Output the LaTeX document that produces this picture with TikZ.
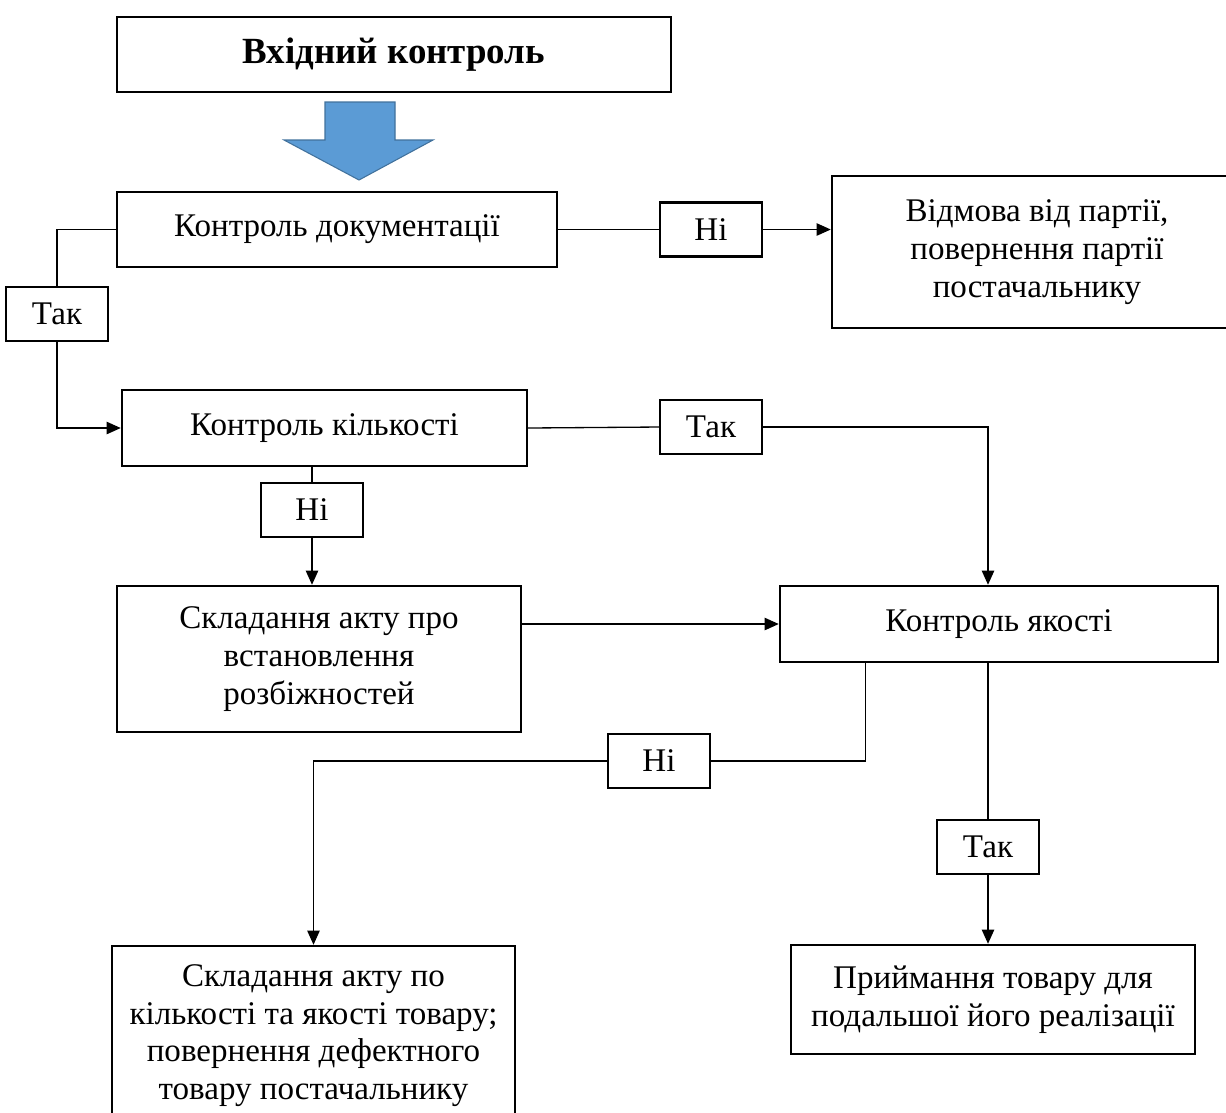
\documentclass[tikz,border=0pt]{standalone}
\usepackage{fontspec}
\setmainfont{Liberation Serif}
\usepackage{tikz}
\usetikzlibrary{positioning,arrows.meta,calc}

\definecolor{arrowblue}{HTML}{5B9BD5}
\definecolor{arrowedge}{HTML}{41719C}

\begin{document}
\begin{tikzpicture}[
  x=1cm, y=1cm,
  every node/.style={font=\fontsize{18.8}{21.5}\selectfont},
  % main process boxes
  box/.style={
    draw=black,
    line width=1.4pt,
    fill=white,
    align=center,
    inner sep=0pt
  },
  % small yes / no labels on the connectors
  tag/.style={
    draw=black,
    line width=1.3pt,
    fill=white,
    minimum width=2.04cm,
    minimum height=1.08cm,
    inner sep=0pt
  },
  link/.style={line width=0.75pt, draw=black},
  arr/.style={-{Triangle[length=8pt,width=7pt]}, line width=0.75pt, draw=black}
]

% Fixed page with the reference proportions
\useasboundingbox (0,0) rectangle (24.52,-22.24);

\node[box, minimum width=11.08cm, minimum height=1.5cm,
  font=\fontsize{21}{24}\selectfont\bfseries] (entry) at (7.88,-1.09) {Вхідний контроль};

% Big block arrow under the title
\filldraw[fill=arrowblue, draw=arrowedge, line width=0.6pt]
  (6.5,-2.04) -- (7.9,-2.04) -- (7.9,-2.8) -- (8.66,-2.8) -- (7.18,-3.6)
  -- (5.68,-2.8) -- (6.5,-2.8) -- cycle;

\node[box, minimum width=8.8cm, minimum height=1.5cm] (docs) at (6.74,-4.59) {Контроль документації};
\node[tag] (nodocs) at (14.22,-4.59) {Ні};
\node[box, minimum width=8.2cm, minimum height=3.04cm] (refuse) at (20.74,-5.04)
  {Відмова від партії,\\повернення партії\\постачальнику};

\node[tag] (yesdocs) at (1.14,-6.28) {Так};

\node[box, minimum width=8.1cm, minimum height=1.52cm] (amount) at (6.49,-8.56) {Контроль кількості};
\node[tag] (yesamount) at (14.22,-8.54) {Так};
\node[tag] (noamount) at (6.24,-10.2) {Ні};

\node[box, minimum width=8.08cm, minimum height=2.92cm] (report) at (6.38,-13.18)
  {Складання акту про\\встановлення\\розбіжностей};
\node[box, minimum width=8.76cm, minimum height=1.52cm] (quality) at (19.98,-12.48) {Контроль якості};

\node[tag] (noquality) at (13.18,-15.22) {Ні};
\node[tag] (yesquality) at (19.76,-16.94) {Так};

\node[box, minimum width=8.06cm, minimum height=3.58cm] (defect) at (6.27,-20.71)
  {Складання акту по\\кількості та якості товару;\\повернення дефектного\\товару постачальнику};
\node[box, minimum width=8.08cm, minimum height=2.18cm] (accept) at (19.86,-19.99)
  {Приймання товару для\\подальшої його реалізації};

% Document check
\draw[link] (docs.east) -- (nodocs.west);
\draw[arr] (nodocs.east) -- (nodocs.east -| refuse.west);
\draw[link] (docs.west) -| (yesdocs.north);
\draw[arr] (yesdocs.south) |- (amount.west);

% Quantity check
\draw[link] (amount.east) -- (yesamount.west);
\draw[arr] (yesamount.east) -| (yesquality |- quality.north);
\draw[link] (noamount |- amount.south) -- (noamount.north);
\draw[arr] (noamount.south) -- (noamount |- report.north);
\draw[arr] (report.east |- quality.west) -- (quality.west);

% Quality check
\draw[link] ([xshift=1.74cm]quality.south west) |- (noquality.east);
\draw[arr] (noquality.west) -| (defect.north);
\draw[link] (yesquality |- quality.south) -- (yesquality.north);
\draw[arr] (yesquality.south) -- (yesquality |- accept.north);

\end{tikzpicture}
\end{document}
